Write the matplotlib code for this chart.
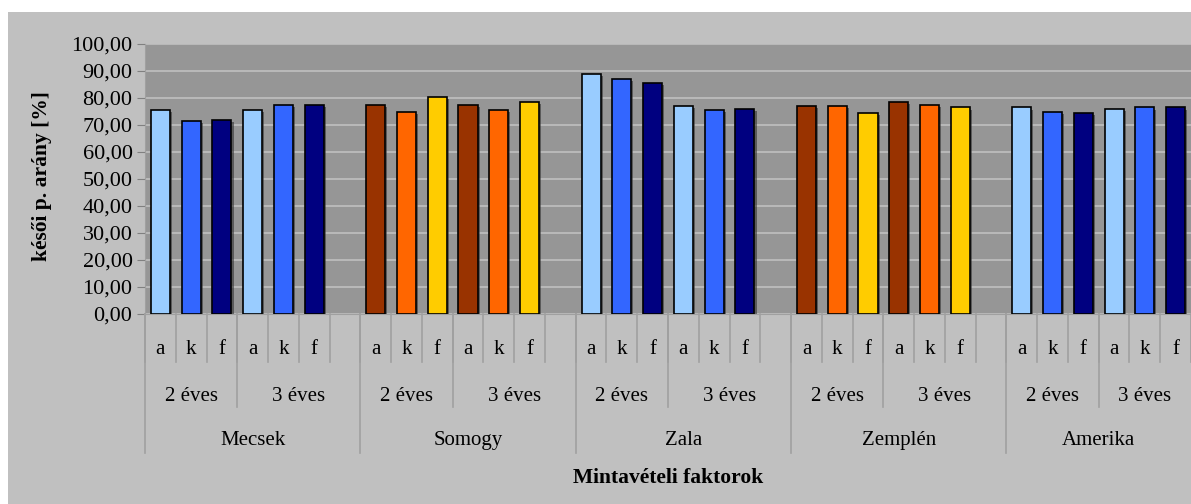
import matplotlib
matplotlib.use("Agg")
import matplotlib.pyplot as plt
from matplotlib.patches import Rectangle
from matplotlib import patheffects

# data
regions = ["Mecsek", "Somogy", "Zala", "Zemplén", "Amerika"]
years = ["2 éves", "3 éves"]
samples = ["a", "k", "f"]
mecsek = [75.5, 71.5, 72.0, 75.5, 77.5, 77.5]
somogy = [77.5, 75.0, 80.5, 77.5, 75.5, 78.5]
zala = [89.0, 87.0, 85.5, 77.0, 75.5, 76.0]
zemplen = [77.0, 77.0, 74.5, 78.5, 77.5, 76.5]
amerika = [76.5, 75.0, 74.5, 76.0, 76.5, 76.5]
values = [mecsek, somogy, zala, zemplen, amerika]

blues = ["#99CCFF", "#3366FF", "#000080"]
browns = ["#993300", "#FF6600", "#FFCC00"]
palettes = [blues, browns, blues, browns, blues]

plt.rcParams["font.family"] = ["Liberation Serif", "DejaVu Serif"]

W, H = 1191, 504
fig = plt.figure(figsize=(W / 100, H / 100), dpi=100)
fig.patch.set_facecolor("white")
fig.patches.append(Rectangle((8 / W, 0), 1, (H - 12) / H, transform=fig.transFigure,
                             facecolor="#C0C0C0", edgecolor="none", zorder=-10))

ax = fig.add_axes([145 / W, 1 - 314 / H, 1 - 145 / W, 270 / H])
ax.set_facecolor("#969696")

slots = len(years) * len(samples) + 1   # one empty slot after each region
shadow = [patheffects.SimplePatchShadow(offset=(1.5, -1.5), shadow_rgbFace="#333333", alpha=0.6),
          patheffects.Normal()]
for r, vals in enumerate(values):
    for i, v in enumerate(vals):
        x = r * slots + i
        ax.bar(x, v, width=0.62, color=palettes[r][i % 3], edgecolor="black",
               linewidth=1.2, zorder=3, path_effects=shadow)

nslots = slots * len(regions)
ax.set_xlim(-0.5, nslots - 1.5)
ax.set_ylim(0, 100)
ax.set_yticks(range(0, 101, 10))
ax.set_yticklabels([f"{t:.2f}".replace(".", ",") for t in range(0, 101, 10)], fontsize=16)
ax.yaxis.grid(True, color="#C0C0C0", linewidth=1.2, zorder=1)
ax.set_axisbelow(True)
ax.tick_params(axis="y", length=6, color="#808080", pad=3)
ax.set_xticks([])
for s in ["top", "right"]:
    ax.spines[s].set_visible(False)
ax.spines["left"].set_color("#A0A0A0")
ax.spines["bottom"].set_color("#A0A0A0")

xmin, xmax = ax.get_xlim()
line_kw = dict(color="#A0A0A0", linewidth=1.2, clip_on=False, transform=ax.get_xaxis_transform())
fs = 15


def mid(a, b):
    a, b = max(a, xmin), min(b, xmax)
    return (a + b) / 2


for r in range(len(regions)):
    start = r * slots - 0.5
    # inner level: a / k / f
    for j in range(slots):
        ax.plot([start + j, start + j], [0, -0.178], **line_kw)
    for y in range(len(years)):
        for i, s in enumerate(samples):
            x = r * slots + y * len(samples) + i
            ax.text(x, -0.13, s, ha="center", va="center", fontsize=fs,
                    transform=ax.get_xaxis_transform())
    # middle level: years
    ysplit = start + len(samples)
    ax.plot([ysplit, ysplit], [0, -0.344], **line_kw)
    ax.text(mid(start, ysplit), -0.304, years[0], ha="center", va="center", fontsize=fs,
            transform=ax.get_xaxis_transform())
    ax.text(mid(ysplit, start + slots), -0.304, years[1], ha="center", va="center", fontsize=fs,
            transform=ax.get_xaxis_transform())
    # outer level: regions
    ax.plot([start, start], [0, -0.515], **line_kw)
    ax.text(mid(start, start + slots), -0.467, regions[r], ha="center", va="center", fontsize=fs,
            transform=ax.get_xaxis_transform())

ax.text(mid(xmin, xmax), -0.607, "Mintavételi faktorok", ha="center", va="center",
        fontsize=15.5, fontweight="bold", transform=ax.get_xaxis_transform())
fig.text(42 / W, 1 - 176 / H, "késői p. arány [%]", rotation=90, ha="center", va="center",
         fontsize=15.5, fontweight="bold")

fig.savefig("out.png", dpi=100, facecolor=fig.get_facecolor())
